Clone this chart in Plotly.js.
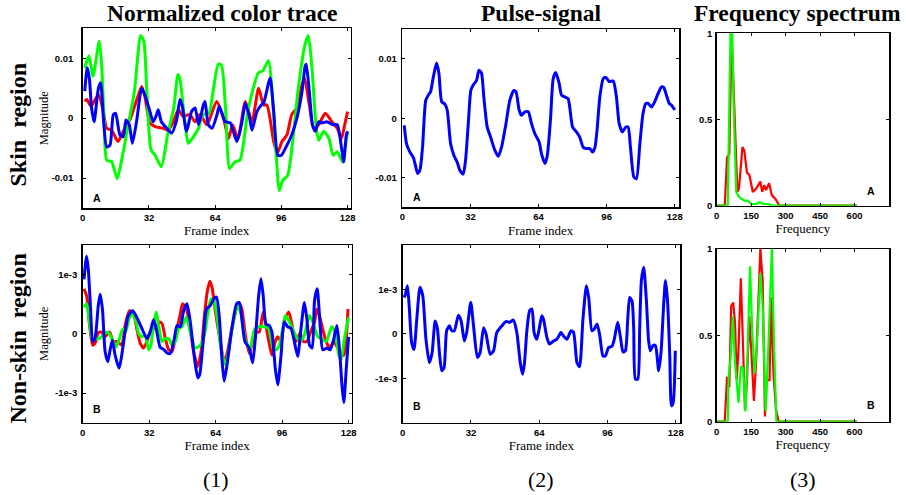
<!DOCTYPE html>
<html>
<head>
<meta charset="utf-8">
<script src="https://cdn.plot.ly/plotly-3.0.1.min.js"></script>
<style>html,body{margin:0;padding:0;background:#fff;}#chart{width:906px;height:495px;}</style>
</head>
<body>
<div id="chart"></div>
<script>
// ---------- Row A (skin region): normalized color trace ----------
const skinFramesR = [1,2,4,7.6,10,11.6,14,17,19.6,22.8,25.3,28.5,30,32.5,35,39,41.4,43.8,46.2,48.6,51.8,54.2,56.7,60,64.7,68,70.5,72.4,75,78.6,81.8,85,87.4,89,92.3,94,96.3,98.7,101,103.5,106,107.2,109.5,111.6,114,117.2,120.4,123,125,126.6,128];
const skinR = [2.8e-3,3.1e-3,2.0e-3,3.9e-3,1.1e-3,-1.7e-3,-2.0e-3,-3.9e-3,-2.2e-3,-0.3e-3,2.2e-3,5.3e-3,3.7e-3,-0.8e-3,-1.4e-3,-1.7e-3,-2.0e-3,-0.6e-3,1.4e-3,0.3e-3,0.6e-3,-0.6e-3,0.6e-3,-1.1e-3,2.8e-3,0,-3.4e-3,-1.1e-3,-3.4e-3,2.8e-3,-0.6e-3,5.0e-3,2.2e-3,2.2e-3,-3.9e-3,-5.9e-3,-3.9e-3,-2.8e-3,0.6e-3,1.7e-3,5.6e-3,6.7e-3,2.2e-3,-1.7e-3,-1.1e-3,0.8e-3,-0.6e-3,-1.7e-3,-3.4e-3,-1.1e-3,1.1e-3];

const skinFramesG = [1,3,5,8,9.2,10.3,11.6,14,16.7,19,22,25,28,29.5,31,33,35,38,41,44,46,47,49.5,51,53.5,56,58,61,63,65.5,67,69,71,73.5,76,80,85,87,89.8,91.5,93.4,95,96.6,99,102,104,107.5,109,110.8,112.7,114,116.4,119,121,123,125.5,127,128];
const skinG = [8.4e-3,10.4e-3,7.0e-3,12.9e-3,8.6e-3,0,-7.0e-3,-7.3e-3,-10.1e-3,-6.7e-3,-1.1e-3,4.5e-3,13.8e-3,12.9e-3,4.5e-3,-5.3e-3,-6.2e-3,-8.1e-3,-2.8e-3,1.7e-3,7.3e-3,6.5e-3,-1.1e-3,-4.2e-3,-3.1e-3,-1.7e-3,0.6e-3,0.8e-3,4.5e-3,9.0e-3,8.9e-3,1.7e-3,-8.4e-3,-7.3e-3,-7.0e-3,1.5e-3,7.6e-3,7.9e-3,9.6e-3,4.5e-3,-5.6e-3,-12.1e-3,-10.4e-3,-9.6e-3,-2.2e-3,4.5e-3,12.4e-3,13.8e-3,8.4e-3,-1.1e-3,-3.7e-3,-2.2e-3,-3.4e-3,-6.2e-3,-5.6e-3,-7.3e-3,-4.5e-3,-2.2e-3];

const skinFramesB = [1,2.2,3.2,4.3,5.5,7.6,8.7,10,11.6,13.2,14.8,15.9,18,19.6,20.9,22.5,24,26,28.5,30,32.5,34,35.4,36.5,38,40.6,43,45.4,47,48,50.2,52.6,54.3,56,58.3,59.1,60.7,62.5,64.9,66,68.9,71.3,74.5,77,78.6,80.5,81.8,84.2,86.3,87.4,89.8,90.6,92.3,94.3,96,98.7,101,103.5,106,107.5,108,109.5,111,112.4,114,115.6,118,121,123,125.3,126.1,127.4,128];
const skinB = [4.5e-3,8.4e-3,6.7e-3,1.7e-3,-0.6e-3,5.0e-3,5.9e-3,0,-4.8e-3,-4.5e-3,0.6e-3,0.8e-3,-2.8e-3,-3.1e-3,-0.3e-3,-1.1e-3,-4.2e-3,-0.6e-3,5.0e-3,3.9e-3,1.1e-3,-0.6e-3,0.3e-3,1.4e-3,-0.6e-3,-1.7e-3,-2.5e-3,-0.3e-3,3.1e-3,2.2e-3,-2.2e-3,1.1e-3,1.7e-3,-1.1e-3,2.2e-3,2.8e-3,-1.1e-3,-1.7e-3,0.6e-3,2.0e-3,-0.6e-3,-0.8e-3,-3.9e-3,-0.6e-3,2.5e-3,0.3e-3,-2.0e-3,1.1e-3,2.2e-3,2.5e-3,5.9e-3,6.7e-3,1.1e-3,-6.2e-3,-6.2e-3,-4.5e-3,-2.8e-3,0,4.5e-3,8.7e-3,9.0e-3,4.5e-3,-1.1e-3,-2.2e-3,-0.6e-3,-0.8e-3,-0.6e-3,-1.1e-3,-1.1e-3,-5.6e-3,-7.3e-3,-2.8e-3,-2.2e-3];

// ---------- Row A: pulse signal ----------
const pulseFramesA = [0.9,2,3.6,5.2,6,7.2,8.3,9.5,11,12.2,13.3,14.6,16.1,17.2,18.5,20,21.1,22.7,24.3,25.8,27.1,28.6,29.7,31,32.2,33.3,34.9,36,37.2,38.3,39.9,41.5,43.5,45.1,46.6,48.7,50.5,52.4,53.4,54.9,56,57.6,59.2,60.7,62.3,64.3,65.4,67,68.1,69.6,70.9,72.1,73.7,74.8,76.4,77.9,80,81.8,83.4,85,86.5,88.1,89.4,90.5,91.5,92.8,94.4,95.6,97.2,99.1,100.6,101.9,103.4,104.9,106.1,107.2,108.8,110,111.6,113.1,114.4,115.5,117.1,118.6,120.2,121.8,122.8,124.1,125.4,126.5,128];
const pulseA = [-1.2e-3,-4.3e-3,-5.7e-3,-6.6e-3,-7.7e-3,-9.3e-3,-8.7e-3,-4.9e-3,3.0e-3,3.9e-3,4.5e-3,7.0e-3,9.3e-3,7.6e-3,2.8e-3,2.4e-3,1.4e-3,-4.3e-3,-6.3e-3,-7.4e-3,-8.8e-3,-9.4e-3,-7.1e-3,-0.9e-3,4.7e-3,5.6e-3,6.4e-3,8.1e-3,7.6e-3,3.6e-3,-1.5e-3,-3.2e-3,-5.4e-3,-6.4e-3,-4.9e-3,-0.9e-3,3.0e-3,4.7e-3,4.5e-3,1.4e-3,0.5e-3,1.1e-3,1.1e-3,-0.9e-3,-2.6e-3,-4.0e-3,-6.0e-3,-7.6e-3,-6.3e-3,-0.3e-3,6.7e-3,7.7e-3,5.9e-3,3.9e-3,3.6e-3,3.3e-3,-1.5e-3,-2.3e-3,-3.2e-3,-4.9e-3,-5.1e-3,-5.1e-3,-5.7e-3,-4.9e-3,-2.0e-3,3.6e-3,6.7e-3,6.9e-3,6.2e-3,6.3e-3,3.6e-3,-0.9e-3,-2.3e-3,-1.5e-3,-1.5e-3,-4.9e-3,-9.9e-3,-10.2e-3,-4.3e-3,0.8e-3,2.5e-3,2.5e-3,1.9e-3,2.8e-3,4.2e-3,5.3e-3,5.2e-3,3.9e-3,2.5e-3,2.2e-3,1.4e-3];

// ---------- Row B (non-skin region): normalized color trace ----------
const nonFramesR = [0.6,1.9,3.2,4.8,5.9,7.5,9.2,10.8,12.9,14.8,16.7,18.8,20.4,22.5,24.5,26,27.7,29.3,30.9,32.5,34.1,35.4,37,38.2,39.8,41.4,43,45.1,47,48.1,49.9,51.5,53.4,55.4,57,58.6,59.9,61.2,62.3,63.9,66,68.1,69.7,72.1,75,76.6,78.3,80.2,81.8,83.4,85,86.9,88.2,89.8,91.1,92.7,93.9,95.5,97,99.2,101.1,102.7,104.6,106.2,107.9,109.5,111.6,112.7,114.3,115.9,117.2,119.1,120.7,122.8,124.4,125.7,126.9,127.7];
const nonR = [0.76e-3,0.64e-3,0.17e-3,-0.19e-3,-0.16e-3,0.02e-3,0.03e-3,-0.05e-3,0.03e-3,-0.13e-3,-0.13e-3,-0.19e-3,0.14e-3,0.39e-3,0.34e-3,0.09e-3,-0.16e-3,-0.24e-3,-0.13e-3,0.03e-3,0.08e-3,0.12e-3,0.2e-3,0.17e-3,-0.08e-3,-0.27e-3,-0.3e-3,0.03e-3,0.34e-3,0.51e-3,0.42e-3,0.14e-3,-0.3e-3,-0.55e-3,-0.3e-3,0.31e-3,0.7e-3,0.89e-3,0.78e-3,0.37e-3,-0.08e-3,-0.47e-3,-0.3e-3,0.14e-3,0.53e-3,0.42e-3,-0.02e-3,-0.33e-3,-0.13e-3,0.03e-3,0.03e-3,0.37e-3,0.14e-3,-0.16e-3,-0.36e-3,-0.13e-3,-0.05e-3,-0.13e-3,0.21e-3,0.37e-3,0.09e-3,-0.13e-3,0.01e-3,-0.13e-3,-0.13e-3,0.01e-3,0.2e-3,0.42e-3,0.26e-3,0.03e-3,-0.13e-3,-0.24e-3,-0.13e-3,-0.24e-3,-0.36e-3,-0.36e-3,-0.08e-3,0.42e-3];

const nonFramesG = [0.6,1.9,3.2,4.8,6.4,8,9.9,11.9,13.2,14.5,16.1,17.7,19.3,20.9,22.5,24.1,25.7,26.9,28.5,30.1,31.7,32.8,34.1,35.4,36.5,38.2,39.8,41.4,43,44.6,46.2,47.8,49.9,51.8,54.2,56.7,58.6,60.7,61.8,63.1,64.9,66.5,68.6,70.2,72.1,74.5,76.2,78.1,80.5,82.6,85,87.4,89.5,91.5,93.1,94.7,96.3,97.6,98.7,100.3,102.4,104.6,106.7,109.2,110.8,113.2,114.8,117.2,119.9,121.5,123.3,124.4,126,128];
const nonG = [0.45e-3,0.51e-3,0.2e-3,-0.11e-3,-0.08e-3,-0.08e-3,-0.02e-3,0.03e-3,-0.02e-3,-0.11e-3,-0.22e-3,-0.08e-3,0.08e-3,0.06e-3,0.28e-3,0.34e-3,0.2e-3,0.01e-3,-0.05e-3,-0.02e-3,-0.27e-3,-0.19e-3,0.14e-3,0.37e-3,0.14e-3,-0.13e-3,-0.08e-3,-0.08e-3,-0.19e-3,-0.13e-3,0.09e-3,0.12e-3,0.28e-3,0.03e-3,-0.24e-3,-0.19e-3,-0.02e-3,0.45e-3,0.59e-3,0.56e-3,0.23e-3,-0.24e-3,-0.52e-3,-0.3e-3,0.12e-3,0.48e-3,0.34e-3,-0.08e-3,-0.27e-3,0.06e-3,0.12e-3,0.12e-3,0.09e-3,-0.22e-3,-0.27e-3,-0.19e-3,0.09e-3,0.31e-3,0.26e-3,0.14e-3,-0.02e-3,-0.13e-3,-0.02e-3,0.31e-3,0.2e-3,-0.05e-3,-0.08e-3,-0.13e-3,0.12e-3,0.03e-3,-0.36e-3,-0.44e-3,-0.08e-3,0.28e-3];

const nonFramesB = [0.6,1.9,2.7,3.8,4.8,5.9,7.5,8.4,9.5,10.8,12.1,13.2,14.3,15.6,17.5,18.8,20.4,22,24.1,26,28.5,30.9,32.5,34.1,35.4,37.3,38.9,40.9,42.2,44.1,45.4,47,48.6,50.2,51.8,53.8,55.4,56.3,58,59.6,61.5,63.1,64.4,65.7,67,68.1,69.7,71.8,74.1,75.4,76.6,78.1,80.2,81.8,83.1,84.7,85.8,86.9,88.2,89.8,91.1,92.7,93.9,95.5,97,98.7,100.3,101.9,103.5,105.1,106.7,107.9,109.2,110.5,111.6,112.9,114,115.6,117.5,119.1,120.7,122.4,123.7,124.9,125.7,126.9,128];
const nonB = [0.92e-3,1.31e-3,1.09e-3,0.42e-3,-0.13e-3,-0.08e-3,0.48e-3,0.67e-3,0.42e-3,-0.3e-3,-0.47e-3,-0.27e-3,-0.11e-3,-0.36e-3,-0.58e-3,-0.36e-3,0.03e-3,0.31e-3,0.39e-3,0.28e-3,0.09e-3,-0.08e-3,0.03e-3,0.24e-3,0.09e-3,-0.23e-3,-0.26e-3,-0.33e-3,-0.33e-3,-0.08e-3,0.14e-3,0.12e-3,0.39e-3,0.51e-3,0.2e-3,-0.41e-3,-0.74e-3,-0.69e-3,-0.13e-3,0.42e-3,0.48e-3,0.59e-3,0.62e-3,0.31e-3,-0.41e-3,-0.8e-3,-0.47e-3,0.09e-3,0.51e-3,0.53e-3,0.26e-3,-0.13e-3,-0.24e-3,-0.49e-3,-0.08e-3,0.64e-3,0.93e-3,0.64e-3,0.17e-3,0.14e-3,0.03e-3,-0.58e-3,-0.86e-3,-0.36e-3,0.2e-3,0.12e-3,0.09e-3,-0.13e-3,-0.38e-3,0.09e-3,0.53e-3,0.26e-3,-0.19e-3,-0.24e-3,0.56e-3,0.76e-3,0.31e-3,-0.27e-3,-0.24e-3,-0.27e-3,-0.11e-3,0.14e-3,-0.3e-3,-0.91e-3,-1.16e-3,-0.58e-3,-0.05e-3];

// ---------- Row B: pulse signal ----------
const pulseFramesB = [0.6,1.1,2.2,3.1,4.2,5.3,6.6,8.1,9.4,10.9,12.5,13.8,15.2,16.3,17.2,18.3,19.4,20.6,21.9,23,24.2,26.1,27.4,28.9,30,31.9,33.2,35,36.3,37.9,39.1,41,42.6,44.1,46.5,48.5,50.1,51.9,53.5,55.1,56.2,57.1,58.2,59.5,60.6,61.6,62.9,64.1,65.2,66,67.6,68.8,70.7,72.3,74.2,75.4,77,78.9,80.1,81.7,82.9,84.5,86.1,87.2,88.7,89.8,91.1,92.3,93.9,95,96.5,98.1,99.2,100.8,102,103.3,104.4,105.5,106.4,107.5,108.3,109.1,110.2,111.1,111.9,113,114.2,115.3,116.1,117.4,118.5,120,121.1,122.4,123.2,124.2,125.2,126,126.8,127.8];
const pulseB = [0.82e-3,0.86e-3,1.08e-3,0.59e-3,-0.2e-3,-0.35e-3,0.33e-3,1.05e-3,0.86e-3,-0.12e-3,-0.65e-3,-0.42e-3,0.29e-3,0.11e-3,-0.42e-3,-0.83e-3,-0.76e-3,0.07e-3,0.18e-3,0.07e-3,0.07e-3,0.42e-3,0.29e-3,-0.16e-3,0.03e-3,0.71e-3,0.18e-3,-0.53e-3,-0.42e-3,0.14e-3,-0.01e-3,-0.46e-3,-0.38e-3,0.03e-3,0.18e-3,0.28e-3,0.26e-3,0.31e-3,0.03e-3,-0.65e-3,-0.91e-3,-0.65e-3,0.07e-3,0.52e-3,0.56e-3,0.03e-3,-0.12e-3,0.14e-3,0.41e-3,0.33e-3,-0.08e-3,-0.23e-3,-0.16e-3,-0.12e-3,0.03e-3,-0.05e-3,-0.12e-3,0.07e-3,0.03e-3,-0.65e-3,-0.74e-3,0.33e-3,1.08e-3,0.82e-3,0.07e-3,0.11e-3,0.22e-3,-0.01e-3,-0.5e-3,-0.5e-3,-0.31e-3,-0.28e-3,-0.12e-3,0.26e-3,-0.05e-3,-0.41e-3,-0.38e-3,0.33e-3,0.82e-3,0.74e-3,0.11e-3,-1.02e-3,-1.02e-3,0.11e-3,1.2e-3,1.5e-3,0.78e-3,-0.16e-3,-0.38e-3,-0.26e-3,-0.27e-3,-0.83e-3,-0.42e-3,0.71e-3,1.2e-3,0.71e-3,-0.5e-3,-1.62e-3,-1.55e-3,-0.38e-3];

// ---------- Frequency spectra ----------
const specFreqRA = [0,35,45,55,65,78,90,97,112,120,132,142,157,172,190,198,207,215,228,240,255,273,610];
const specRA = [0,0,0.28,0.3,1,0.5,0.08,0.1,0.34,0.32,0.19,0.18,0.08,0.1,0.14,0.08,0.12,0.09,0.13,0.06,0.04,0,0];
const specFreqGA = [0,48,60,67,75,85,97,120,135,150,172,187,202,225,247,610];
const specGA = [0,0,1,1,0.52,0.08,0.05,0.03,0.03,0.01,0.01,0.02,0.01,0.01,0,0];
const specFreqRB = [0,35,45,55,63,72,80,87,95,105,112,123,132,142,150,162,172,180,190,200,210,217,230,237,247,258,270,610];
const specRB = [0,0,0.26,0.2,0.67,0.69,0.57,0.24,0.42,0.83,0.55,0.07,0.24,0.61,0.43,0.12,0.36,0.67,1,0.82,0.03,0.24,0.24,0.72,0.28,0.07,0,0];
const specFreqGB = [0,48,52,60,70,80,95,105,115,125,135,145,155,165,175,190,200,213,225,240,250,260,610];
const specGB = [0,0,0.26,0.36,0.61,0.34,0.11,0.32,0.31,0.06,0.42,0.9,0.51,0.28,0.45,0.86,0.67,0.06,0.43,1,0.42,0,0];

// ---------- Tick labels ----------
const frameTicks = [0,32,64,96,128];
const freqTicks = [0,150,300,450,600];
const skinTickVals = [-0.01,0,0.01];
const skinTickText = ['-0.01','0','0.01'];
const pulseBTickVals = [-1e-3,0,1e-3];
const nonTickText = ['-1e-3','0','1e-3'];
const specTickVals = [0,0.5,1];
const specTickText = ['0','0.5','1'];

const RED = '#ff0000', GREEN = '#00ff00', BLUE = '#0000ff';
const W = 906, H = 495;
const px = v => v / W;
const py = v => 1 - v / H;

function tr(x, y, color, xa, ya, width, smooth) {
  return {x: x, y: y, xaxis: xa, yaxis: ya, type: 'scatter', mode: 'lines',
    line: {color: color, width: width, shape: smooth ? 'spline' : 'linear', smoothing: 0.6},
    hoverinfo: 'skip', showlegend: false};
}

const data = [
  tr(skinFramesR, skinR, RED, 'x', 'y', 3, true),
  tr(skinFramesG, skinG, GREEN, 'x', 'y', 3, true),
  tr(skinFramesB, skinB, BLUE, 'x', 'y', 3, true),
  tr(pulseFramesA, pulseA, BLUE, 'x2', 'y2', 3, true),
  tr(specFreqRA, specRA, RED, 'x3', 'y3', 2.2, false),
  tr(specFreqGA, specGA, GREEN, 'x3', 'y3', 2.2, false),
  tr(nonFramesR, nonR, RED, 'x4', 'y4', 3, true),
  tr(nonFramesG, nonG, GREEN, 'x4', 'y4', 3, true),
  tr(nonFramesB, nonB, BLUE, 'x4', 'y4', 3, true),
  tr(pulseFramesB, pulseB, BLUE, 'x5', 'y5', 3, true),
  tr(specFreqRB, specRB, RED, 'x6', 'y6', 2.2, false),
  tr(specFreqGB, specGB, GREEN, 'x6', 'y6', 2.2, false)
];

const tickFont = {family: '"Liberation Sans Narrow", "Liberation Sans", Arial, sans-serif', size: 9.5, color: '#000', weight: 'bold'};
const serif = '"Liberation Serif", "Times New Roman", serif';

function ax(extra) {
  return Object.assign({
    showline: true, linecolor: '#000', linewidth: 1.5, mirror: 'ticks',
    ticks: 'inside', ticklen: 3, tickwidth: 1, tickcolor: '#000',
    showgrid: false, zeroline: false, tickfont: tickFont, fixedrange: true
  }, extra);
}
function xTitle(t) { return {text: t, font: {family: serif, size: 13, color: '#000', weight: 'normal'}, standoff: 4}; }
function yTitle(t, s) { return {text: t, font: {family: serif, size: 12.5, color: '#000', weight: 'normal'}, standoff: s}; }

const layout = {
  width: W, height: H, autosize: false,
  margin: {l: 0, r: 0, t: 0, b: 0},
  paper_bgcolor: '#fff', plot_bgcolor: '#fff',
  xaxis:  ax({domain: [px(82.7), px(350.7)], range: [0, 129.5], tickvals: frameTicks, anchor: 'y', title: xTitle('Frame index')}),
  yaxis:  ax({domain: [py(208), py(28.3)], range: [-0.015, 0.015], tickvals: skinTickVals, ticktext: skinTickText, anchor: 'x', ticklabelstandoff: 6,
             title: yTitle('Magnitude', 0)}),
  xaxis2: ax({domain: [px(402.3), px(679)], range: [0, 130], tickvals: frameTicks, anchor: 'y2', title: xTitle('Frame index')}),
  yaxis2: ax({domain: [py(207.3), py(29.3)], range: [-0.015, 0.015], tickvals: skinTickVals, ticktext: skinTickText, anchor: 'x2', ticklabelstandoff: 2}),
  xaxis3: ax({domain: [px(716.7), px(889)], range: [0, 750], tickvals: freqTicks, anchor: 'y3', title: xTitle('Frequency')}),
  yaxis3: ax({domain: [py(205.7), py(33.3)], range: [0, 1], tickvals: specTickVals, ticktext: specTickText, anchor: 'x3', ticklabelstandoff: 1}),
  xaxis4: ax({domain: [px(82.7), px(351.7)], range: [0, 129.5], tickvals: frameTicks, anchor: 'y4', title: xTitle('Frame index')}),
  yaxis4: ax({domain: [py(422.7), py(245)], range: [-1.5e-3, 1.5e-3], tickvals: pulseBTickVals, ticktext: nonTickText, anchor: 'x4', ticklabelstandoff: 2,
             title: yTitle('Magnitude', 3)}),
  xaxis5: ax({domain: [px(402.7), px(680)], range: [0, 130], tickvals: frameTicks, anchor: 'y5', title: xTitle('Frame index')}),
  yaxis5: ax({domain: [py(422.7), py(245)], range: [-2e-3, 2e-3], tickvals: pulseBTickVals, ticktext: nonTickText, anchor: 'x5', ticklabelstandoff: 2}),
  xaxis6: ax({domain: [px(716.7), px(889)], range: [0, 750], tickvals: freqTicks, anchor: 'y6', title: xTitle('Frequency')}),
  yaxis6: ax({domain: [py(421.7), py(249)], range: [0, 1], tickvals: specTickVals, ticktext: specTickText, anchor: 'x6', ticklabelstandoff: 1}),
  annotations: []
};

function ann(text, x, y, size, family, bold, angle) {
  layout.annotations.push({
    text: bold ? '<b>' + text + '</b>' : text,
    xref: 'paper', yref: 'paper', x: px(x), y: py(y),
    xanchor: 'center', yanchor: 'middle', showarrow: false,
    textangle: angle || 0,
    font: {family: family, size: size, color: '#000'}
  });
}
const sans = '"Liberation Sans", Arial, sans-serif';
// column titles
ann('Normalized color trace', 222, 13, 23.5, serif, true);
ann('Pulse-signal', 541, 13, 23.5, serif, true);
ann('Frequency spectrum', 797, 13, 23.5, serif, true);
// row labels
ann('Skin\u00a0 region', 17.5, 125, 24, serif, true, -90);
ann('Non-skin\u00a0 region', 17.5, 339, 24, serif, true, -90);
// panel numbers
ann('(1)', 216, 479, 22, serif, false);
ann('(2)', 541, 479, 22, serif, false);
ann('(3)', 803, 479, 22, serif, false);
// panel letters
ann('A', 97, 197.5, 10.5, sans, true);
ann('A', 417, 197, 10.5, sans, true);
ann('A', 871, 191, 10.5, sans, true);
ann('B', 97, 409, 10.5, sans, true);
ann('B', 417, 406, 10.5, sans, true);
ann('B', 871, 405, 10.5, sans, true);

Plotly.newPlot('chart', data, layout, {displayModeBar: false, staticPlot: true});
</script>
</body>
</html>
